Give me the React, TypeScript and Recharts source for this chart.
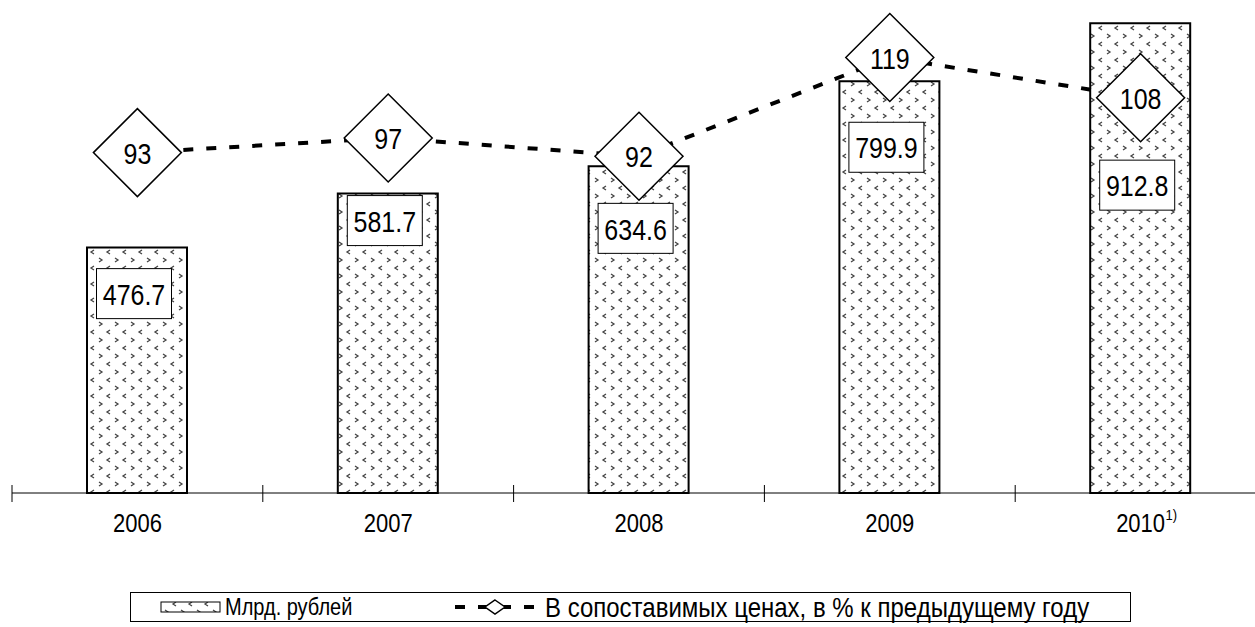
import React from 'react';
import { ComposedChart, Bar, Line, XAxis, YAxis, LabelList } from 'recharts';

const years = ['2006', '2007', '2008', '2009', '2010'];
const footnotes = ['', '', '', '', '1)'];
const billions = [476.7, 581.7, 634.6, 799.9, 912.8];
const percents = [93, 97, 92, 119, 108];

const seriesNames = ['Млрд. рублей', 'В сопоставимых ценах, в % к предыдущему году'];

const data = years.map((y, i) => ({ year: y, note: footnotes[i], bln: billions[i], pct: percents[i] }));

const FONT = '"Liberation Sans", Arial, sans-serif';
const STRETCH = 1.17;
const labelShift = [46, 27, 62, 66, 162];

const PatternDefs = ({ id }: { id: string }) => (
  <defs>
    <pattern id={id} width={16} height={16} patternUnits="userSpaceOnUse">
      <rect width={16} height={16} fill="#fff" />
      <polyline points="3,2 6,4 3,6" fill="none" stroke="#444" strokeWidth={1.3} />
      <polyline points="14,10 11,12 14,14" fill="none" stroke="#444" strokeWidth={1.3} />
    </pattern>
  </defs>
);

const SText = ({ x, y, size, anchor = 'middle', children }: any) => (
  <text
    transform={`translate(${x} ${y}) scale(1 ${STRETCH})`}
    textAnchor={anchor}
    dominantBaseline="central"
    fontFamily={FONT}
    fontSize={size}
    fill="#000"
  >
    {children}
  </text>
);

const XTick = (props: any) => {
  const { x, y, payload, index } = props;
  const half = payload && payload.offset ? payload.offset : 125.4;
  const i = typeof index === 'number' ? index : years.indexOf(payload.value);
  const note = footnotes[i] || '';
  return (
    <g>
      <line x1={x - half} x2={x - half} y1={y - 8} y2={y + 9} stroke="#000" strokeWidth={1} />
      <SText x={x} y={y + 30} size={22}>
        {payload.value}
      </SText>
      {note ? (
        <SText x={x + 25} y={y + 22} size={13} anchor="start">
          {note}
        </SText>
      ) : null}
    </g>
  );
};

const BarLabel = (p: any) => {
  const { x, y, width, value, index } = p;
  const cx = x + width / 2 - 3;
  const cy = y + labelShift[index ?? 0];
  return (
    <g>
      <rect x={cx - 37.5} y={cy - 25} width={75} height={50} fill="#fff" stroke="#000" strokeWidth={1} />
      <SText x={cx} y={cy + 1} size={25}>
        {Number(value).toFixed(1)}
      </SText>
    </g>
  );
};

const Diamond = (p: any) => {
  const { cx, cy, value, index } = p;
  if (cx == null || cy == null) return null;
  const h = 44;
  return (
    <g key={`d${index}`}>
      <polygon
        points={`${cx},${cy - h} ${cx + h},${cy} ${cx},${cy + h} ${cx - h},${cy}`}
        fill="#fff"
        stroke="#000"
        strokeWidth={1.5}
      />
      <SText x={cx} y={cy + 1} size={25}>
        {value}
      </SText>
    </g>
  );
};

export default function App() {
  return (
    <div style={{ position: 'absolute', left: 0, top: 0, width: 1255, height: 627, overflow: 'hidden', background: '#fff' }}>
      <ComposedChart
        width={1266}
        height={627}
        data={data}
        margin={{ top: 4, right: 0, left: 12, bottom: 84 }}
        barCategoryGap={0}
      >
        <PatternDefs id="chev" />
        <XAxis
          dataKey="year"
          height={50}
          tickLine={false}
          tickSize={0}
          tickMargin={0}
          axisLine={{ stroke: '#000', strokeWidth: 1 }}
          tick={<XTick />}
          interval={0}
        />
        <YAxis yAxisId="left" hide domain={[0, 950]} />
        <YAxis yAxisId="right" hide orientation="right" domain={[0, 133.6]} />
        <Bar
          yAxisId="left"
          dataKey="bln"
          barSize={100}
          fill="url(#chev)"
          stroke="#000"
          strokeWidth={2}
          isAnimationActive={false}
        >
          <LabelList dataKey="bln" content={<BarLabel />} />
        </Bar>
        <Line
          yAxisId="right"
          dataKey="pct"
          stroke="#000"
          strokeWidth={4}
          strokeDasharray="10 13"
          dot={<Diamond />}
          activeDot={false}
          isAnimationActive={false}
        />
      </ComposedChart>
      <svg style={{ position: 'absolute', left: 130, top: 592 }} width={1001} height={31}>
        <PatternDefs id="chevLeg" />
        <rect x={0.5} y={0.5} width={1000} height={29} fill="#fff" stroke="#000" strokeWidth={1} />
        <rect x={31} y={10} width={59} height={10} fill="url(#chevLeg)" stroke="#000" strokeWidth={1} />
        <SText x={95} y={15} size={20} anchor="start">
          {seriesNames[0]}
        </SText>
        <line x1={325} y1={15} x2={405} y2={15} stroke="#000" strokeWidth={4} strokeDasharray="10 13" />
        <polygon points="365,8 375,15 365,22 355,15" fill="#fff" stroke="#000" strokeWidth={1.5} />
        <SText x={415} y={15} size={24} anchor="start">
          {seriesNames[1]}
        </SText>
      </svg>
    </div>
  );
}
